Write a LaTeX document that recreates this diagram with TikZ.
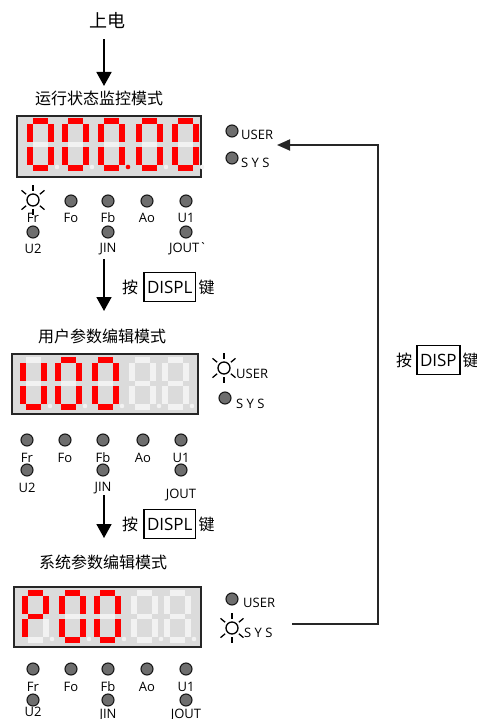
\documentclass[tikz,border=0pt]{standalone}
\usepackage{fontspec}
\setmainfont{Open Sans}
\newfontfamily\cjk{Noto Sans CJK SC}
\usetikzlibrary{arrows.meta,positioning}

\tikzset{
  segon/.style={fill=red},
  segoff/.style={fill=white!95!black},
  panel/.style={draw=black!85,line width=2pt,fill=black!14},
  led/.style={circle,draw=black!90,line width=1.1pt,fill=black!57,minimum size=12pt,inner sep=0pt},
  ledtxt/.style={font=\fontsize{13}{13}\selectfont,inner sep=0pt},
  modetitle/.style={font=\cjk\fontsize{16}{16}\selectfont,inner sep=0pt},
  keytxt/.style={font=\cjk\fontsize{16}{16}\selectfont,inner sep=0pt},
  keybox/.style={draw,line width=1.6pt,font=\fontsize{17}{17}\selectfont,inner xsep=3pt,inner ysep=0pt,minimum height=29pt},
  flow/.style={line width=1.8pt,-{Triangle[width=15pt,length=14pt]}},
  loopline/.style={line width=1.8pt,draw=black!85,-{Triangle[width=11pt,length=13pt]}},
}

\newcommand{\segdigit}[3]{%
  \begin{scope}[shift={(#1,#2)}]
    \foreach \ax/\ay/\bx/\by [count=\i from 0] in {6/0/21/6,21/6/27/24,21/29/27/47,6/47/21/53,0/29/6/47,0/6/6/24,6/24/21/29}{
      \pgfmathtruncatemacro\lit{{#3}[\i]}
      \ifnum\lit=1 \fill[segon] (\ax,\ay) rectangle (\bx,\by);
      \else \fill[segoff] (\ax,\ay) rectangle (\bx,\by);\fi
    }
    \pgfmathtruncatemacro\lit{{#3}[7]}
    \ifnum\lit=1 \fill[segon] (30,49) circle (2.3pt);
    \else \fill[segoff] (30,49) circle (2.3pt);\fi
  \end{scope}}

\newcommand{\sunled}[2]{%
  \begin{scope}[shift={(#1,#2)}]
    \draw[line width=1.3pt,fill=white] (0,0) circle (6pt);
    \foreach \a in {40,90,140,220,270,320}
      \draw[line width=1.3pt] (\a:9pt) -- (\a:15pt);
  \end{scope}}

\begin{document}
\begin{tikzpicture}[x=1pt,y=-1pt]
  \useasboundingbox (0,0) rectangle (476,719);
  \node[font=\cjk\fontsize{18}{18}\selectfont,inner sep=0pt] (pwr) at (107,21) {上电};
  \node[modetitle] (mon) at (99,98) {运行状态监控模式};
  \coordinate (pwrend) at (104,86);
  \draw[flow,shorten <=10pt] (pwr.south -| pwrend) -- (pwrend);

  \draw[panel] (17,116) rectangle (201,177);
  \segdigit{27}{118}{1,1,1,1,1,1,0,0}
  \segdigit{62}{118}{1,1,1,1,1,1,0,0}
  \segdigit{98}{118}{1,1,1,1,1,1,0,1}
  \segdigit{136}{118}{1,1,1,1,1,1,0,0}
  \segdigit{172}{118}{1,1,1,1,1,1,0,0}
  \node[led] (user1) at (232,131) {};
  \node[ledtxt,anchor=west] (usert1) at (241,135) {USER};
  \node[led] (sys1) at (232,158) {};
  \node[ledtxt,anchor=west] (syst1) at (241,163) {S Y S};
  \sunled{33}{200}
  \node[ledtxt] (fr1) at (33,218) {Fr};
  \foreach \x/\lab/\nm in {71/Fo/fo,108/Fb/fb,147/Ao/ao,186/U1/ua} {
    \node[led] (\nm1) at (\x,201) {};
    \node[ledtxt] (\nm1t) at (\x,218) {\lab};
  }
  \foreach \x/\lab/\nm in {33/U2/ub,108/JIN/jin,188/JOUT\textasciigrave/jout} {
    \node[led] (\nm1) at ({min(\x,186)},232) {};
    \node[ledtxt] (\nm1t) at (\x,249) {\lab};
  }

  \coordinate (k1top) at (104,259);
  \coordinate (k1end) at (104,311);
  \draw[flow] (k1top) -- (k1end);
  \node[keytxt] (an1) at (130,287) {按};
  \node[keybox,right=5pt of an1] (displ1) {DISPL};
  \node[keytxt,right=2pt of displ1] (jian1) {键};

  \node[modetitle] (usr) at (102,336) {用户参数编辑模式};
  \draw[panel] (12,354) rectangle (198,414);
  \segdigit{20}{357}{0,1,1,1,1,1,0,0}
  \segdigit{55}{357}{1,1,1,1,1,1,0,0}
  \segdigit{92}{357}{1,1,1,1,1,1,0,0}
  \segdigit{129}{357}{0,0,0,0,0,0,0,0}
  \segdigit{162}{357}{0,0,0,0,0,0,0,0}
  \sunled{224}{368}
  \node[ledtxt,anchor=west] (usert2) at (236,374) {USER};
  \node[led] (sys2) at (225,398) {};
  \node[ledtxt,anchor=west] (syst2) at (236,404) {S Y S};
  \foreach \x/\lab/\nm in {27/Fr/fr,65/Fo/fo,103/Fb/fb,143/Ao/ao,181/U1/ua} {
    \node[led] (\nm2) at (\x,440) {};
    \node[ledtxt] (\nm2t) at (\x,458) {\lab};
  }
  \foreach \x/\lab/\nm/\ly in {27/U2/ub/488,103/JIN/jin/488,181/JOUT/jout/495} {
    \node[led] (\nm2) at (\x,470) {};
    \node[ledtxt] (\nm2t) at (\x,\ly) {\lab};
  }

  \coordinate (k2top) at (104,495);
  \coordinate (k2end) at (104,538);
  \draw[flow] (k2top) -- (k2end);
  \node[keytxt] (an2) at (130,524) {按};
  \node[keybox,right=5pt of an2] (displ2) {DISPL};
  \node[keytxt,right=2pt of displ2] (jian2) {键};

  \node[modetitle] (sysm) at (103,562) {系统参数编辑模式};
  \draw[panel] (14,587) rectangle (201,647);
  \segdigit{22}{590}{1,1,0,0,1,1,1,0}
  \segdigit{59}{590}{1,1,1,1,1,1,0,0}
  \segdigit{94}{590}{1,1,1,1,1,1,0,0}
  \segdigit{131}{590}{0,0,0,0,0,0,0,0}
  \segdigit{164}{590}{0,0,0,0,0,0,0,0}
  \node[led] (user3) at (232,599) {};
  \node[ledtxt,anchor=west] (usert3) at (243,603) {USER};
  \sunled{232}{628}
  \node[ledtxt,anchor=west] (syst3) at (244,633) {S Y S};
  \foreach \x/\lab/\nm in {33/Fr/fr,71/Fo/fo,108/Fb/fb,147/Ao/ao,186/U1/ua} {
    \node[led] (\nm3) at (\x,669) {};
    \node[ledtxt] (\nm3t) at (\x,687) {\lab};
  }
  \foreach \x/\lab/\nm/\ly in {33/U2/ub/712,108/JIN/jin/715,186/JOUT/jout/715} {
    \node[led] (\nm3) at (\x,700) {};
    \node[ledtxt] (\nm3t) at (\x,\ly) {\lab};
  }

  \coordinate (lpa) at (292,624);
  \coordinate (lpb) at (378,145);
  \coordinate (lpc) at (277,145);
  \draw[loopline] (lpa) -| (lpb) -- (lpc);
  \node[keytxt] (an3) at (404,360) {按};
  \node[keybox,right=4pt of an3] (disp3) {DISP};
  \node[keytxt,right=2pt of disp3] (jian3) {键};
\end{tikzpicture}
\end{document}
